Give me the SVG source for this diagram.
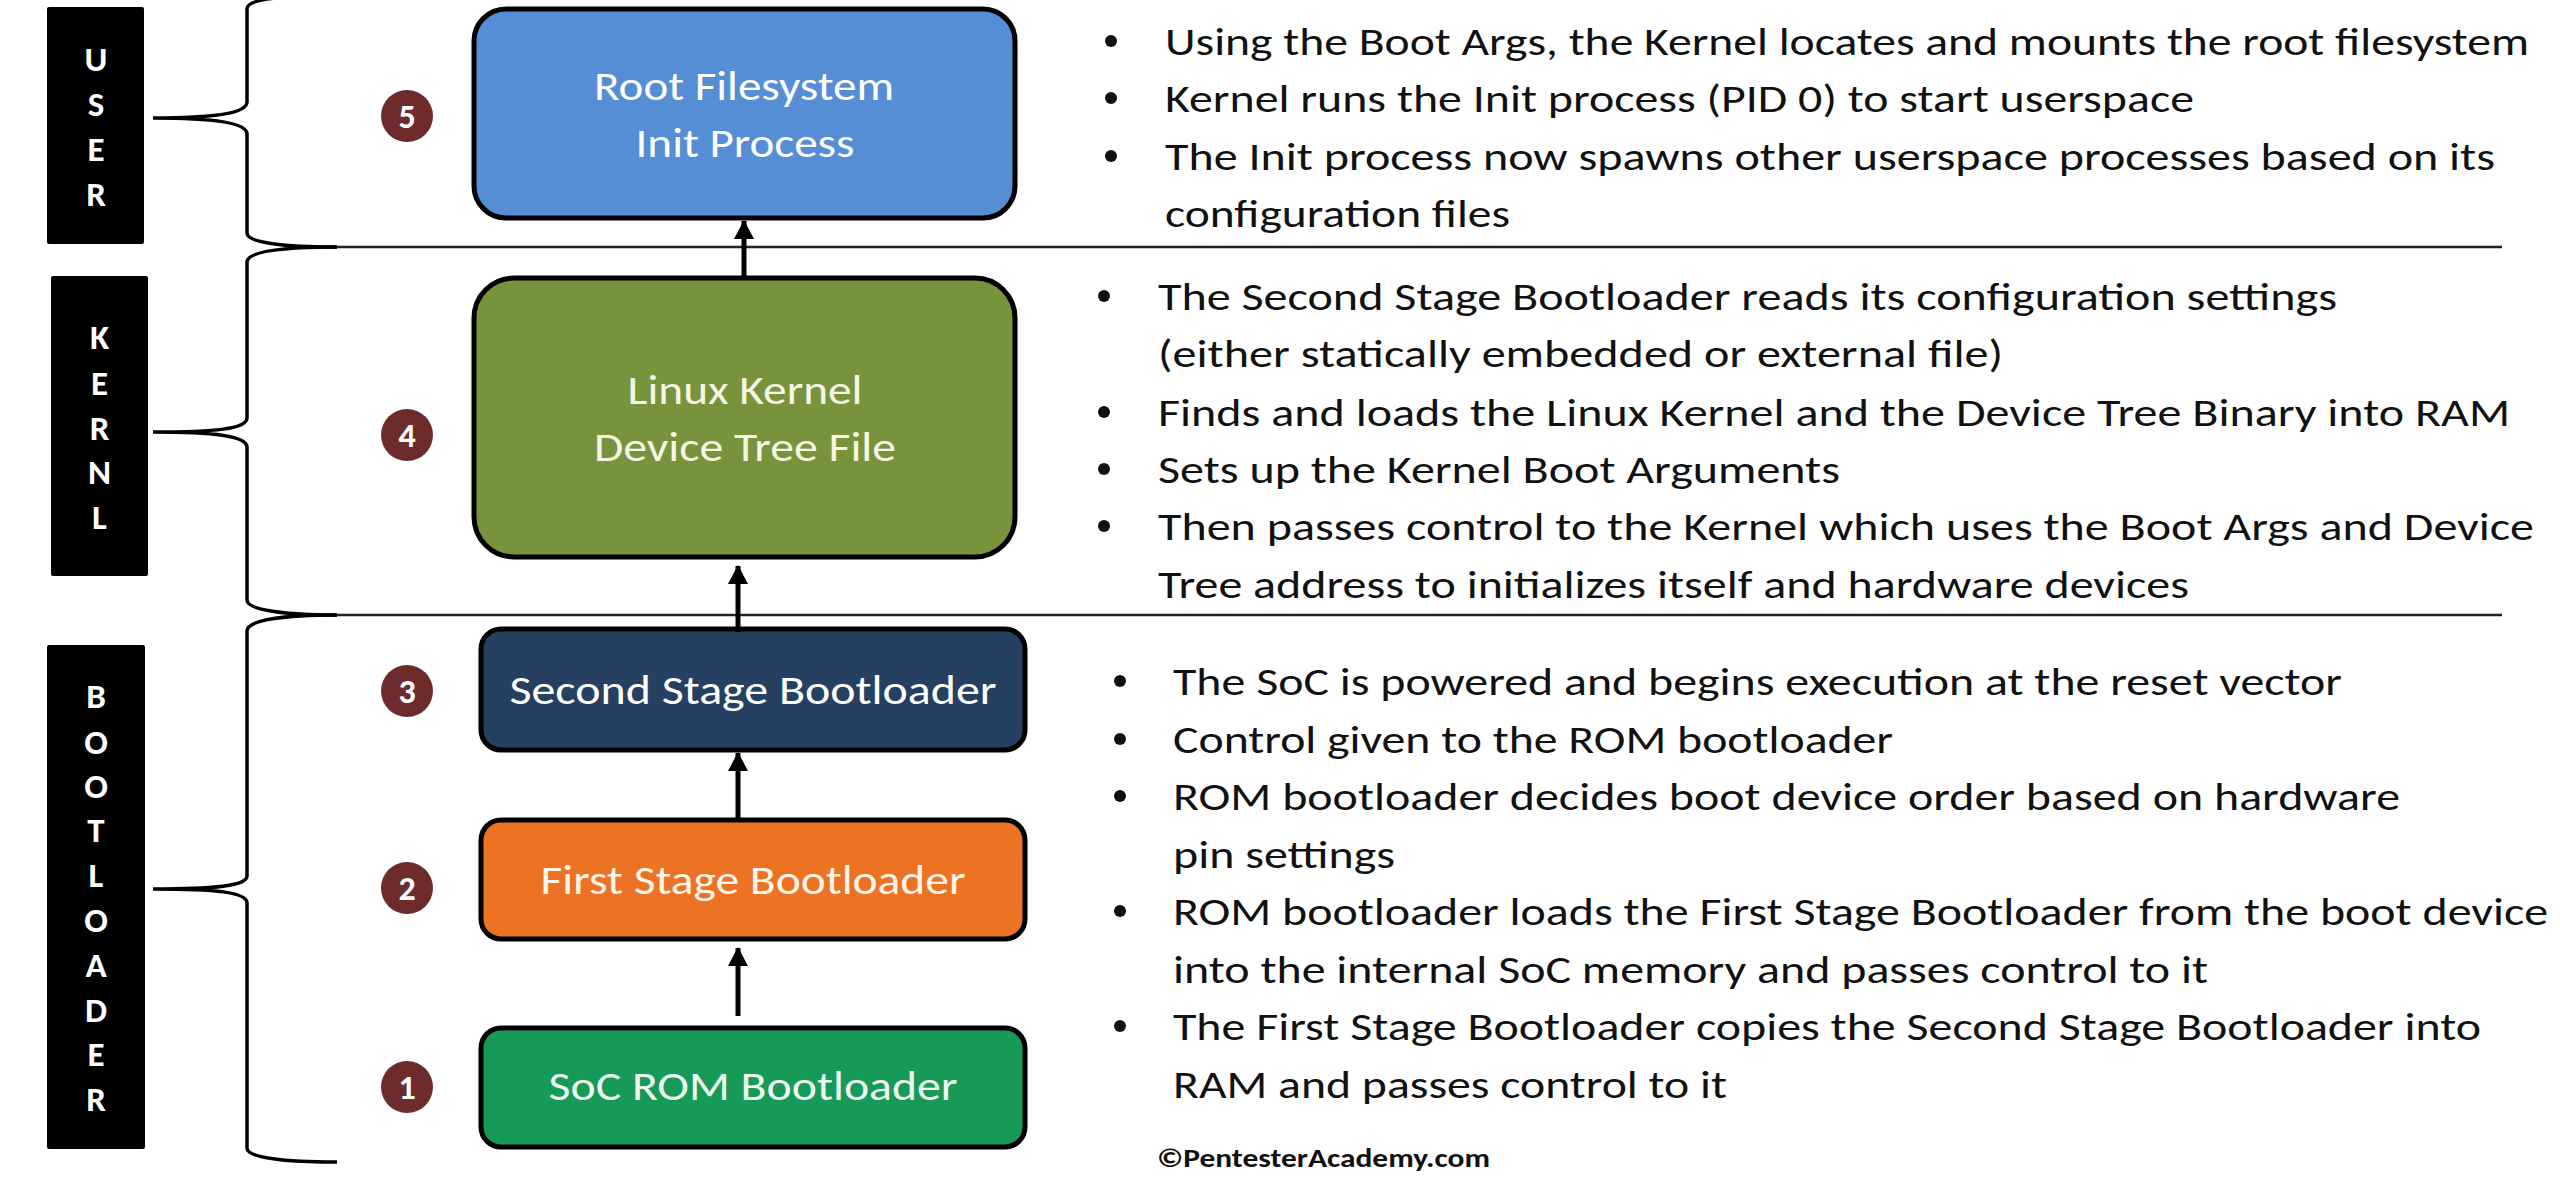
<svg xmlns="http://www.w3.org/2000/svg" width="2560" height="1188" viewBox="0 0 2560 1188">
<style>
.lbl{fill:#000}
.lt{font-family:Carlito,Lato,"Open Sans",sans-serif;font-weight:900;font-size:35px;fill:#fff;text-anchor:middle}
.brace{fill:none;stroke:#000;stroke-width:3.5}
.sep{stroke:#222;stroke-width:2.5}
.num circle{fill:#6e2b2b}
.num text{font-family:Carlito,Lato,"Open Sans",sans-serif;font-weight:900;font-size:34px;fill:#fff;text-anchor:middle}
.box{stroke:#000;stroke-width:5}
.bt{font-family:Carlito,Lato,"Open Sans",sans-serif;font-size:42px;text-anchor:middle}
.desc{font-family:Carlito,Lato,"Open Sans",sans-serif;font-size:38px;fill:#111}
.bul{fill:#111}
.conn{stroke:#000;stroke-width:5;fill:none}
.copy{font-family:Carlito,Lato,"Open Sans",sans-serif;font-size:26px;font-weight:bold;fill:#111}
</style>
<defs>
<marker id="ah" markerUnits="userSpaceOnUse" markerWidth="22" markerHeight="22" refX="18" refY="11" orient="auto">
<path d="M0,1 L19,11 L0,21 z" fill="#000"/>
</marker>
</defs>
<rect width="2560" height="1188" fill="#fff"/>

<g id="label-user">
<rect class="lbl" x="47" y="7" width="97" height="237" rx="2"/>
<text class="lt" x="96" y="71">U</text>
<text class="lt" x="96" y="116">S</text>
<text class="lt" x="96" y="161">E</text>
<text class="lt" x="96" y="206">R</text>
</g>
<g id="label-kernel">
<rect class="lbl" x="51" y="276" width="97" height="300" rx="2"/>
<text class="lt" x="99.5" y="349">K</text>
<text class="lt" x="99.5" y="395">E</text>
<text class="lt" x="99.5" y="440">R</text>
<text class="lt" x="99.5" y="484">N</text>
<text class="lt" x="99.5" y="529">L</text>
</g>
<g id="label-bootloader">
<rect class="lbl" x="47" y="645" width="98" height="504" rx="2"/>
<text class="lt" x="96" y="708">B</text>
<text class="lt" x="96" y="754">O</text>
<text class="lt" x="96" y="798">O</text>
<text class="lt" x="96" y="842">T</text>
<text class="lt" x="96" y="887">L</text>
<text class="lt" x="96" y="932">O</text>
<text class="lt" x="96" y="977">A</text>
<text class="lt" x="96" y="1022">D</text>
<text class="lt" x="96" y="1066">E</text>
<text class="lt" x="96" y="1111">R</text>
</g>

<g id="braces">
<path class="brace" d="M330,-4 C280,-4 247,-1 247,9 L247,102 C247,113 215,118 153,118 C215,118 247,123 247,134 L247,233 C247,243 285,247 337,247"/>
<path class="brace" d="M337,247 C285,247 247,251 247,262 L247,418 C247,429 215,432 153,432 C215,432 247,436 247,447 L247,600 C247,610 285,615 337,615"/>
<path class="brace" d="M337,615 C285,615 247,620 247,631 L247,876 C247,886 215,889 153,889 C215,889 247,892 247,903 L247,1148 C247,1158 285,1162 337,1162"/>
<line class="sep" x1="337" y1="247" x2="2502" y2="247"/>
<line class="sep" x1="337" y1="615" x2="2502" y2="615"/>
</g>

<g id="steps" class="num">
<circle cx="407" cy="116" r="26"/><text x="407" y="128">5</text>
<circle cx="407" cy="435" r="26"/><text x="407" y="447">4</text>
<circle cx="407" cy="691" r="26"/><text x="407" y="703">3</text>
<circle cx="407" cy="888" r="26"/><text x="407" y="900">2</text>
<circle cx="407" cy="1087" r="26"/><text x="407" y="1099">1</text>
</g>

<g id="node-rootfs">
<rect class="box" x="474" y="9" width="541" height="209" rx="32" fill="#558ed5"/>
<text class="bt" x="744" y="100" fill="#fff" textLength="300" lengthAdjust="spacingAndGlyphs">Root Filesystem</text>
<text class="bt" x="745" y="157" fill="#fff" textLength="219" lengthAdjust="spacingAndGlyphs">Init Process</text>
</g>
<g id="node-kernel">
<rect class="box" x="474" y="278" width="541" height="279" rx="40" fill="#77933c"/>
<text class="bt" x="745" y="404" fill="#f6f6e6" textLength="235" lengthAdjust="spacingAndGlyphs">Linux Kernel</text>
<text class="bt" x="745" y="461" fill="#f6f6e6" textLength="302" lengthAdjust="spacingAndGlyphs">Device Tree File</text>
</g>
<g id="node-ssbl">
<rect class="box" x="481" y="629" width="544" height="121" rx="20" fill="#254061"/>
<text class="bt" x="753" y="704" fill="#fff" textLength="487" lengthAdjust="spacingAndGlyphs">Second Stage Bootloader</text>
</g>
<g id="node-fsbl">
<rect class="box" x="481" y="820" width="544" height="119" rx="20" fill="#ec7224"/>
<text class="bt" x="753" y="894" fill="#fff6ea" textLength="425" lengthAdjust="spacingAndGlyphs">First Stage Bootloader</text>
</g>
<g id="node-rom">
<rect class="box" x="481" y="1028" width="544" height="119" rx="20" fill="#179a58"/>
<text class="bt" x="753" y="1100" fill="#eefaf0" textLength="409" lengthAdjust="spacingAndGlyphs">SoC ROM Bootloader</text>
</g>

<g id="connectors">
<line class="conn" x1="744" y1="278" x2="744" y2="221" marker-end="url(#ah)"/>
<line class="conn" x1="738" y1="632" x2="738" y2="566" marker-end="url(#ah)"/>
<line class="conn" x1="738" y1="820" x2="738" y2="753" marker-end="url(#ah)"/>
<line class="conn" x1="738" y1="1016" x2="738" y2="948" marker-end="url(#ah)"/>
</g>

<g id="text-user">
<circle class="bul" cx="1111" cy="41" r="6"/>
<circle class="bul" cx="1111" cy="98" r="6"/>
<circle class="bul" cx="1111" cy="156" r="6"/>
<text class="desc" x="1165" y="55" textLength="1364" lengthAdjust="spacingAndGlyphs">Using the Boot Args, the Kernel locates and mounts the root filesystem</text>
<text class="desc" x="1165" y="112" textLength="1029" lengthAdjust="spacingAndGlyphs">Kernel runs the Init process (PID 0) to start userspace</text>
<text class="desc" x="1165" y="170" textLength="1330" lengthAdjust="spacingAndGlyphs">The Init process now spawns other userspace processes based on its</text>
<text class="desc" x="1165" y="227" textLength="345" lengthAdjust="spacingAndGlyphs">configuration files</text>
</g>
<g id="text-kernel">
<circle class="bul" cx="1104" cy="296" r="6"/>
<circle class="bul" cx="1104" cy="412" r="6"/>
<circle class="bul" cx="1104" cy="469" r="6"/>
<circle class="bul" cx="1104" cy="526" r="6"/>
<text class="desc" x="1158" y="310" textLength="1179" lengthAdjust="spacingAndGlyphs">The Second Stage Bootloader reads its configuration settings</text>
<text class="desc" x="1158" y="367" textLength="845" lengthAdjust="spacingAndGlyphs">(either statically embedded or external file)</text>
<text class="desc" x="1158" y="426" textLength="1352" lengthAdjust="spacingAndGlyphs">Finds and loads the Linux Kernel and the Device Tree Binary into RAM</text>
<text class="desc" x="1158" y="483" textLength="682" lengthAdjust="spacingAndGlyphs">Sets up the Kernel Boot Arguments</text>
<text class="desc" x="1158" y="540" textLength="1376" lengthAdjust="spacingAndGlyphs">Then passes control to the Kernel which uses the Boot Args and Device</text>
<text class="desc" x="1158" y="598" textLength="1031" lengthAdjust="spacingAndGlyphs">Tree address to initializes itself and hardware devices</text>
</g>
<g id="text-bootloader">
<circle class="bul" cx="1120" cy="681" r="6"/>
<circle class="bul" cx="1120" cy="739" r="6"/>
<circle class="bul" cx="1120" cy="796" r="6"/>
<circle class="bul" cx="1120" cy="911" r="6"/>
<circle class="bul" cx="1120" cy="1026" r="6"/>
<text class="desc" x="1173" y="695" textLength="1169" lengthAdjust="spacingAndGlyphs">The SoC is powered and begins execution at the reset vector</text>
<text class="desc" x="1173" y="753" textLength="720" lengthAdjust="spacingAndGlyphs">Control given to the ROM bootloader</text>
<text class="desc" x="1173" y="810" textLength="1227" lengthAdjust="spacingAndGlyphs">ROM bootloader decides boot device order based on hardware</text>
<text class="desc" x="1173" y="868" textLength="222" lengthAdjust="spacingAndGlyphs">pin settings</text>
<text class="desc" x="1173" y="925" textLength="1375" lengthAdjust="spacingAndGlyphs">ROM bootloader loads the First Stage Bootloader from the boot device</text>
<text class="desc" x="1173" y="983" textLength="1035" lengthAdjust="spacingAndGlyphs">into the internal SoC memory and passes control to it</text>
<text class="desc" x="1173" y="1040" textLength="1308" lengthAdjust="spacingAndGlyphs">The First Stage Bootloader copies the Second Stage Bootloader into</text>
<text class="desc" x="1173" y="1098" textLength="554" lengthAdjust="spacingAndGlyphs">RAM and passes control to it</text>
<text class="copy" x="1157" y="1167" textLength="333" lengthAdjust="spacingAndGlyphs">©PentesterAcademy.com</text>
</g>
</svg>
